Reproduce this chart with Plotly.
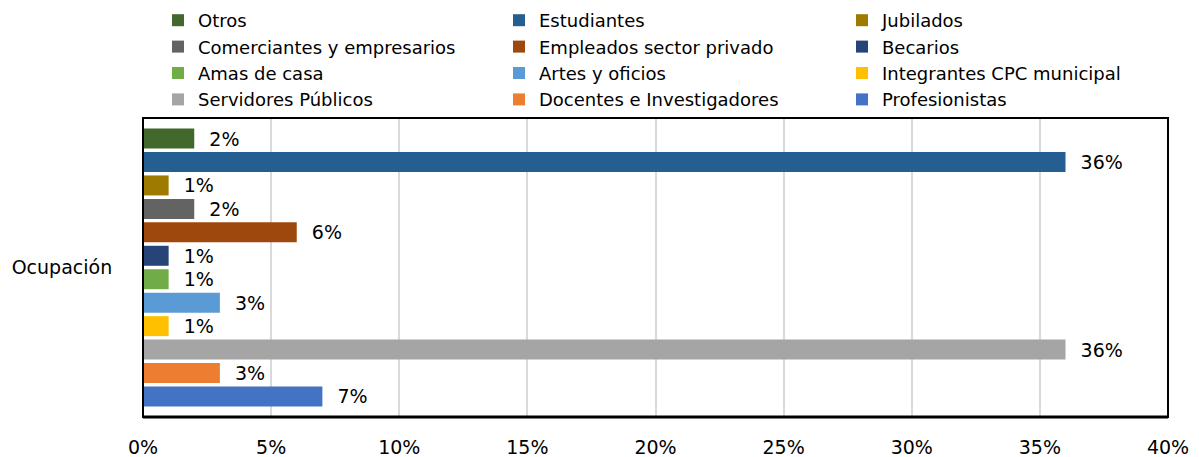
import plotly.graph_objects as go

category = ["Ocupación"]
series_names = [
    "Otros", "Estudiantes", "Jubilados",
    "Comerciantes y empresarios", "Empleados sector privado", "Becarios",
    "Amas de casa", "Artes y oficios", "Integrantes CPC municipal",
    "Servidores Públicos", "Docentes e Investigadores", "Profesionistas",
]
series_values = [2, 36, 1, 2, 6, 1, 1, 3, 1, 36, 3, 7]
series_colors = [
    "#43682B", "#255E91", "#9E7A00",
    "#636363", "#9E480E", "#264478",
    "#70AD47", "#5B9BD5", "#FFC000",
    "#A5A5A5", "#ED7D31", "#4472C4",
]
x_ticks = [0, 5, 10, 15, 20, 25, 30, 35, 40]
x_tick_labels = ["0%", "5%", "10%", "15%", "20%", "25%", "30%", "35%", "40%"]

FONT = "DejaVu Sans"
legend_ids = ["legend", "legend2", "legend3"]

fig = go.Figure()
for i, (name, val, col) in enumerate(zip(series_names, series_values, series_colors)):
    fig.add_trace(go.Bar(
        name=name,
        y=category,
        x=[val],
        orientation="h",
        marker=dict(color=col, line=dict(width=0)),
        text=[f"\u00a0\u00a0{val}%"],
        textposition="outside",
        constraintext="none",
        cliponaxis=False,
        textfont=dict(family=FONT, size=19, color="#000000"),
        legend=legend_ids[i % 3],
        hoverinfo="skip",
    ))

leg_common = dict(
    xref="container", yref="container", xanchor="left", yanchor="top",
    bgcolor="rgba(0,0,0,0)", borderwidth=0, orientation="v",
    font=dict(family=FONT, size=18, color="#000000"),
    tracegroupgap=0, traceorder="normal",
)
legend_x_px = [158, 499, 842]
legend_top_px = 2

layout_legends = {}
for lid, xp in zip(legend_ids, legend_x_px):
    layout_legends[lid] = dict(leg_common, x=xp / 1199, y=1 - legend_top_px / 457)

fig.update_layout(
    width=1199, height=457,
    margin=dict(l=143, r=31, t=118, b=40, autoexpand=False),
    paper_bgcolor="white", plot_bgcolor="white",
    barmode="group", bargap=0.059, bargroupgap=0.147,
    showlegend=True,
    font=dict(family=FONT, size=19, color="#000000"),
    xaxis=dict(
        range=[0, 40], tickvals=x_ticks, ticktext=x_tick_labels,
        showgrid=True, gridcolor="#D9D9D9", gridwidth=1.5,
        zeroline=False, showline=False, automargin=False,
        ticks="outside", ticklen=13, tickcolor="rgba(0,0,0,0)",
        tickfont=dict(family=FONT, size=19, color="#000000"),
    ),
    yaxis=dict(
        type="category", range=[0.5, -0.5], automargin=False,
        showgrid=False, zeroline=False, showline=False,
        ticks="outside", ticklen=26, tickcolor="rgba(0,0,0,0)",
        tickfont=dict(family=FONT, size=19, color="#000000"),
    ),
    shapes=[
        dict(type="rect", xref="paper", yref="paper", x0=0, x1=1, y0=0, y1=1,
             line=dict(color="#000000", width=2), fillcolor="rgba(0,0,0,0)", layer="above"),
        dict(type="line", xref="paper", yref="paper", x0=0, x1=1, y0=0, y1=0,
             line=dict(color="#000000", width=3), layer="above"),
    ],
    **layout_legends,
)

fig.write_html("out.html")
